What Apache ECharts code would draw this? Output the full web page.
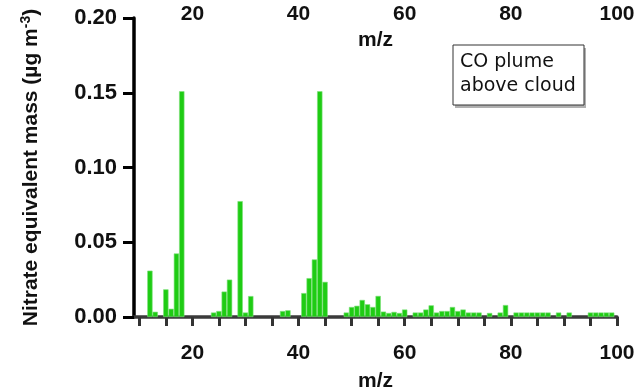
<!DOCTYPE html>
<html>
<head>
<meta charset="utf-8">
<script src="https://cdn.jsdelivr.net/npm/echarts@6/dist/echarts.min.js"></script>
<style>html,body{margin:0;padding:0;background:#fff}#c{width:636px;height:392px}</style>
</head>
<body>
<div id="c"></div>
<script>
var mzValues = [12,13,15,16,17,18,24,25,26,27,29,30,31,37,38,41,42,43,44,45,
  49,50,51,52,53,54,55,56,57,58,59,60,62,63,64,65,66,67,68,69,70,71,72,73,74,
  76,78,79,81,82,83,84,85,86,87,89,91,95,96,97,98,99];
var massValues = [0.031,0.0035,0.0185,0.0055,0.0425,0.151,0.003,0.004,0.017,0.025,0.0775,0.003,0.014,0.004,0.0045,0.016,0.026,0.0385,0.151,0.0235,
  0.003,0.0067,0.0075,0.0114,0.0085,0.0067,0.0141,0.0036,0.0027,0.0034,0.0027,0.005,0.003,0.003,0.005,0.0078,0.003,0.004,0.004,0.0067,0.004,0.005,0.003,0.003,0.003,
  0.0027,0.003,0.008,0.003,0.003,0.003,0.003,0.003,0.003,0.003,0.003,0.003,0.003,0.003,0.003,0.003,0.003];
var xLabelValues = [20,40,60,80,100];
var xTickValues = [10,15,20,25,30,35,40,45,50,55,60,65,70,75,80,85,90,95,100];
var yTicks = [0,0.05,0.10,0.15,0.20];
var legendLines = ['CO plume','above cloud'];

var chart = echarts.init(document.getElementById('c'), null, {renderer:'canvas'});
var FONT = '"Liberation Sans", Arial, sans-serif';
var seriesData = mzValues.map(function(m,i){return [m, massValues[i]];});
chart.setOption({
  animation:false,
  backgroundColor:'#fff',
  grid:{left:134, right:19, top:18, bottom:75, containLabel:false, outerBoundsMode:'none'},
  xAxis:[{
    type:'value', position:'bottom', min:9, max:100,
    splitLine:{show:false},
    axisLine:{show:true, onZero:false, lineStyle:{color:'#3a3a3a', width:3.5}},
    axisTick:{show:true, customValues:xTickValues, length:9, lineStyle:{color:'#333', width:3}},
    axisLabel:{customValues:xLabelValues, margin:26, color:'#111', fontFamily:FONT, fontWeight:'bold', fontSize:21},
    name:'m/z', nameLocation:'middle', nameGap:64,
    nameTextStyle:{color:'#111', fontFamily:FONT, fontWeight:'bold', fontSize:21, verticalAlign:'middle'}
  },{
    type:'value', position:'top', min:9, max:100,
    splitLine:{show:false},
    axisLine:{show:true, lineStyle:{color:'rgba(0,0,0,0)', width:0}}, axisTick:{show:false},
    axisLabel:{customValues:xLabelValues, margin:4, verticalAlign:'middle', color:'#111', fontFamily:FONT, fontWeight:'bold', fontSize:21},
    name:'m/z', nameLocation:'middle', nameGap:-22, nameMoveOverlap:false,
    nameTextStyle:{color:'#111', fontFamily:FONT, fontWeight:'bold', fontSize:21, verticalAlign:'middle'}
  }],
  yAxis:{
    type:'value', min:0, max:0.2, interval:0.05,
    splitLine:{show:false},
    axisLine:{show:true, lineStyle:{color:'#000', width:3.5}},
    axisTick:{show:true, length:11, lineStyle:{color:'#000', width:3}},
    axisLabel:{margin:17, color:'#111', fontFamily:FONT, fontWeight:'bold', fontSize:22,
      formatter:function(v){return v.toFixed(2);}},
    name:'{a|Nitrate equivalent mass (µg m}{s|-3}{a|)}',
    nameLocation:'middle', nameGap:103, nameRotate:90,
    nameTextStyle:{verticalAlign:'middle', rich:{
      a:{fontFamily:FONT, fontWeight:'bold', fontSize:21, color:'#111'},
      s:{fontFamily:FONT, fontWeight:'bold', fontSize:14, color:'#111', verticalAlign:'top', padding:[0,0,9,0]}
    }}
  },
  series:[{
    type:'bar', xAxisIndex:0, data:seriesData, barWidth:5.3,
    itemStyle:{color:'#1fcc14', borderColor:'#7ee07a', borderWidth:0.6}
  }],
  graphic:[
    {type:'rect', shape:{x:455, y:48, width:131, height:60}, style:{fill:'#b0b0b0'}, z:10},
    {type:'rect', shape:{x:453, y:45, width:131, height:60}, style:{fill:'#fff', stroke:'#333', lineWidth:1}, z:11},
    {type:'text', x:460, y:62, style:{text:legendLines[0], font:'19px "DejaVu Sans", sans-serif', fill:'#111', verticalAlign:'middle'}, z:12},
    {type:'text', x:460, y:86, style:{text:legendLines[1], font:'19px "DejaVu Sans", sans-serif', fill:'#111', verticalAlign:'middle'}, z:12}
  ]
});
</script>
</body>
</html>
